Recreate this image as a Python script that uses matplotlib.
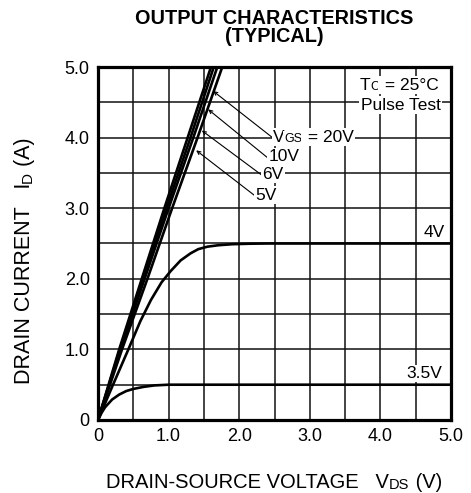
import numpy as np
import matplotlib
matplotlib.use("Agg")
import matplotlib.pyplot as plt

plt.rcParams['font.family'] = ['Liberation Sans', 'DejaVu Sans']

# ---- data ----
vgs_labels = ['20V', '10V', '6V', '5V']
bundle_id = [0, 1, 2, 3, 4, 5]
bundle_vds = {
    '20V': [0, 0.30, 0.62, 0.94, 1.27, 1.60],
    '10V': [0, 0.31, 0.64, 0.97, 1.31, 1.64],
    '6V':  [0, 0.32, 0.66, 1.00, 1.35, 1.69],
    '5V':  [0, 0.34, 0.70, 1.05, 1.41, 1.76],
}
v4_vds = [0, 0.2, 0.43, 0.6, 0.75, 0.9, 1.03, 1.17, 1.31, 1.42, 1.55, 1.7, 1.9, 2.15, 2.4, 5.0]
v4_id = [0, 0.47, 1.0, 1.40, 1.70, 1.95, 2.11, 2.26, 2.36, 2.42, 2.455, 2.475, 2.49, 2.497, 2.5, 2.5]
v35_vds = [0, 0.05, 0.1, 0.2, 0.3, 0.4, 0.5, 0.65, 0.8, 1.0, 5.0]
v35_id = [0, 0.10, 0.18, 0.29, 0.36, 0.41, 0.44, 0.47, 0.49, 0.5, 0.5]

ticks = [0, 0.5, 1, 1.5, 2, 2.5, 3, 3.5, 4, 4.5, 5]
xtick_labels = ['0', '', '1.0', '', '2.0', '', '3.0', '', '4.0', '', '5.0']
ytick_labels = ['0', '', '1.0', '', '2.0', '', '3.0', '', '4.0', '', '5.0']

W, H = 471, 493
fig = plt.figure(figsize=(W / 100, H / 100), dpi=100)
L, R, T, B = 98, 451, 67, 420
ax = fig.add_axes([L / W, 1 - B / H, (R - L) / W, (B - T) / H])
ax.set_xlim(0, 5)
ax.set_ylim(0, 5)
ax.set_xticks(ticks)
ax.set_yticks(ticks)
ax.set_xticklabels(xtick_labels, fontsize=13)
ax.set_yticklabels(ytick_labels, fontsize=13)
ax.tick_params(length=0, pad=6)
ax.grid(True, color='#111111', linewidth=1.1, zorder=1)
ax.set_axisbelow(True)
for s in ax.spines.values():
    s.set_linewidth(2.3)
    s.set_zorder(6)

lw = 1.9
for k in vgs_labels:
    ax.plot(bundle_vds[k], bundle_id, color='black', lw=lw, zorder=3,
            solid_capstyle='butt')
ax.plot(v4_vds, v4_id, color='black', lw=lw, zorder=3)
ax.plot(v35_vds, v35_id, color='black', lw=lw, zorder=3)

FS = 12.5
SUB = 9
wbox = dict(facecolor='white', edgecolor='none', pad=1.0)


def rich(x, y, pieces, transform, box=None, zorder=5):
    """Draw pieces [(text, size)] one after another along the baseline."""
    arts = []
    first = ax.text(x, y, pieces[0][0], fontsize=pieces[0][1], transform=transform,
                    ha='left', va='bottom', bbox=box, zorder=zorder)
    arts.append(first)
    prev = first
    for s, fs in pieces[1:]:
        a = ax.annotate(s, xy=(1, 0), xycoords=prev, ha='left', va='bottom',
                        fontsize=fs, bbox=box, zorder=zorder, annotation_clip=False)
        arts.append(a)
        prev = a
    return arts


# Tc and pulse test
rich(3.71, 4.635, [('T', FS), ('C', SUB), (' = 25°C', FS)], ax.transData, box=wbox)
ax.text(3.72, 4.46, 'Pulse Test', fontsize=FS, ha='left', va='center', bbox=wbox, zorder=5)

# VGS labels with leaders
label_pos = [(2.48, 3.90), (2.41, 3.62), (2.33, 3.37), (2.23, 3.08)]
leader_end = [(1.63, 4.66), (1.56, 4.40), (1.47, 4.10), (1.39, 3.82)]
label_pieces = [
    [('V', FS), ('GS', SUB), (' = 20V', FS)],
    [('10V', FS)],
    [('6V', FS)],
    [('5V', FS)],
]
for (px, py), end, pcs in zip(label_pos, leader_end, label_pieces):
    arts = rich(px, py, pcs, ax.transData, box=wbox)
    ax.annotate('', xy=end, xycoords='data', xytext=(-0.02, 0.45), textcoords=arts[0],
                arrowprops=dict(arrowstyle='->,head_length=0.25,head_width=0.12',
                                color='black', lw=0.8, shrinkA=0, shrinkB=0),
                zorder=4)

ax.text(4.61, 2.65, '4V', fontsize=FS, ha='left', va='center', bbox=wbox, zorder=5)
ax.text(4.37, 0.66, '3.5V', fontsize=FS, ha='left', va='center', bbox=wbox, zorder=5)

# Titles
fig.text(274 / W, 1 - 19 / H, 'OUTPUT CHARACTERISTICS', fontsize=14.3, fontweight='bold',
         ha='center', va='center')
fig.text(274 / W, 1 - 37 / H, '(TYPICAL)', fontsize=14.3, fontweight='bold',
         ha='center', va='center')

# x label (rich, centered)
xl = rich(0, 1.0 / H, [('DRAIN-SOURCE VOLTAGE   V', 14.5), ('DS', 10.5), (' (V)', 14.5)],
          fig.transFigure)

# y label (rotated, rich)
yfirst = ax.text(35 / W, 0, 'DRAIN CURRENT   I', fontsize=15.5, rotation=90,
                 transform=fig.transFigure, ha='right', va='bottom')
prev = yfirst
yl = [yfirst]
for s, fs in [('D', 11), (' (A)', 15.5)]:
    a = ax.annotate(s, xy=(1, 1), xycoords=prev, ha='right', va='bottom', rotation=90,
                    fontsize=fs, annotation_clip=False)
    yl.append(a)
    prev = a

fig.canvas.draw()
r = fig.canvas.get_renderer()
bb0 = xl[0].get_window_extent(r)
bb1 = xl[-1].get_window_extent(r)
wpx = bb1.x1 - bb0.x0
xl[0].set_x((274 - wpx / 2) / W)

b0 = yl[0].get_window_extent(r)
b1 = yl[-1].get_window_extent(r)
hpx = b1.y1 - b0.y0
yl[0].set_y((H - 260.5 - hpx / 2) / H)

fig.savefig('out.png', dpi=100)
